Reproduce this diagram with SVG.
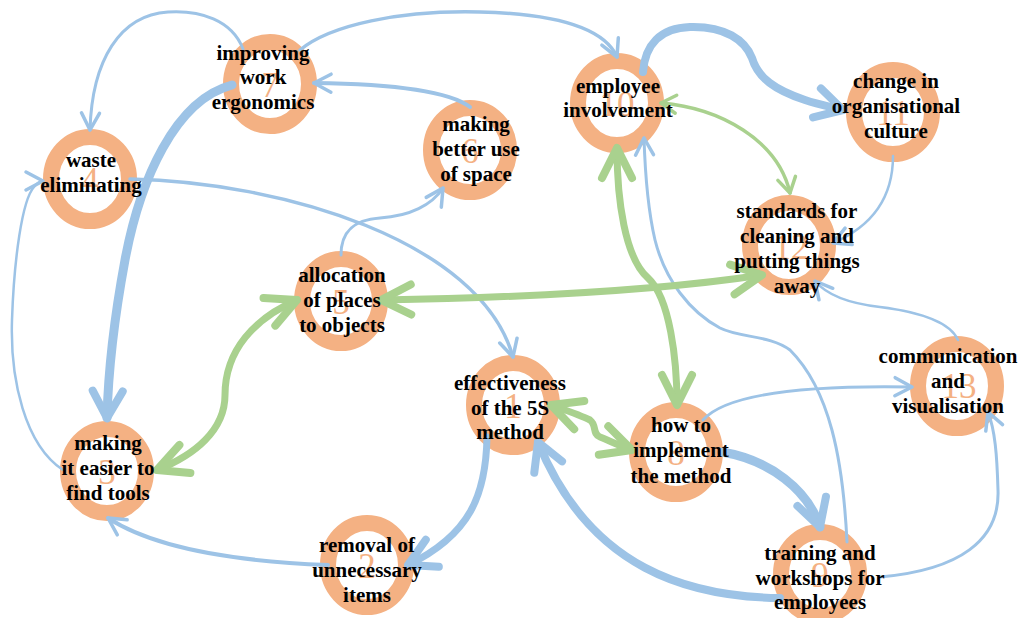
<svg xmlns="http://www.w3.org/2000/svg" width="1030" height="618" viewBox="0 0 1030 618">
<style>
.ring{fill:none;stroke:#F4B183;stroke-width:16}
.num{font-family:"Liberation Serif","Times New Roman",serif;font-size:35px;fill:#F4B183;text-anchor:middle}
.lbl{font-family:"Liberation Serif","Times New Roman",serif;font-size:21px;font-weight:bold;fill:#000;text-anchor:middle}
.b{fill:none;stroke:#9DC3E6;stroke-linecap:round}
.g{fill:none;stroke:#A9D18E;stroke-linecap:round}
.bs{marker-end:url(#mbs)}
.bl{marker-end:url(#mbl)}
.gs{marker-start:url(#mgs);marker-end:url(#mgs)}
.gl{marker-start:url(#mgl);marker-end:url(#mgl)}
</style>
<defs>
<marker id="mbs" markerUnits="userSpaceOnUse" viewBox="-30 -20 40 40" markerWidth="40" markerHeight="40" refX="0" refY="0" orient="auto-start-reverse" overflow="visible"><path d="M-17,-9 L0,0 L-17,9" fill="none" stroke="#9DC3E6" stroke-width="3.5" stroke-linecap="round" stroke-linejoin="round"/></marker>
<marker id="mbl" markerUnits="userSpaceOnUse" viewBox="-40 -25 50 50" markerWidth="50" markerHeight="50" refX="0" refY="0" orient="auto-start-reverse" overflow="visible"><path d="M-27,-15 L0,0 L-27,15" fill="none" stroke="#9DC3E6" stroke-width="8" stroke-linecap="round" stroke-linejoin="round"/></marker>
<marker id="mgs" markerUnits="userSpaceOnUse" viewBox="-30 -20 40 40" markerWidth="40" markerHeight="40" refX="0" refY="0" orient="auto-start-reverse" overflow="visible"><path d="M-15,-9 L0,0 L-15,9" fill="none" stroke="#A9D18E" stroke-width="3.5" stroke-linecap="round" stroke-linejoin="round"/></marker>
<marker id="mgl" markerUnits="userSpaceOnUse" viewBox="-40 -25 50 50" markerWidth="50" markerHeight="50" refX="0" refY="0" orient="auto-start-reverse" overflow="visible"><path d="M-30,-15 L0,0 L-30,15" fill="none" stroke="#A9D18E" stroke-width="8" stroke-linecap="round" stroke-linejoin="round"/></marker>
</defs>
<g id="rings">
<ellipse class="ring" cx="90" cy="179" rx="39" ry="42"/>
<ellipse class="ring" cx="270" cy="84" rx="39" ry="42"/>
<ellipse class="ring" cx="470" cy="150" rx="39" ry="42"/>
<ellipse class="ring" cx="617" cy="103" rx="39" ry="42"/>
<ellipse class="ring" cx="893" cy="112" rx="39" ry="42"/>
<ellipse class="ring" cx="789" cy="245" rx="39" ry="42"/>
<ellipse class="ring" cx="341" cy="301" rx="39" ry="42"/>
<ellipse class="ring" cx="513" cy="405" rx="39" ry="42"/>
<ellipse class="ring" cx="676" cy="452" rx="39" ry="42"/>
<ellipse class="ring" cx="820" cy="574" rx="39" ry="42"/>
<ellipse class="ring" cx="957" cy="386" rx="39" ry="42"/>
<ellipse class="ring" cx="107" cy="471" rx="39" ry="42"/>
<ellipse class="ring" cx="367" cy="565" rx="39" ry="42"/>
</g>
<g id="connectors">
<path class="b bs" stroke-width="3" d="M243,49 C232,20 200,10 168,12 C120,15 92,60 90,130"/>
<path class="b bs" stroke-width="3.5" d="M300,50 C330,25 400,10 480,12 C560,14 605,30 617,57"/>
<path class="b bs" stroke-width="4" d="M470,107 C450,92 400,84 314,83"/>
<path class="b bs" stroke-width="3" d="M341,255 C341,235 350,220 380,218 C410,216 432,205 443,188"/>
<path class="b bs" stroke-width="3.5" d="M130,179 C280,182 480,240 513,357"/>
<path class="b bs" stroke-width="2.5" d="M63,470 C25,445 10,380 12,320 C14,260 22,200 34,187 C37,183 40,181 43,181"/>
<path class="b bl" stroke-width="9" d="M232,85 C175,100 140,180 125,260 C112,330 108,380 107,418"/>
<path class="b bl" stroke-width="8" d="M643,72 C645,45 660,28 690,27 C725,26 745,40 752,58 C758,78 775,90 805,100 C820,105 832,107 843,110"/>
<path class="b bs" stroke-width="2.5" d="M893,156 C893,195 875,225 833,243"/>
<path class="b bs" stroke-width="2.5" d="M958,340 C950,322 920,312 880,307 C845,303 825,293 815,281"/>
<path class="b bs" stroke-width="3" d="M703,420 C725,395 800,385 912,387"/>
<path class="b bs" stroke-width="3" d="M880,577 C960,570 1000,540 998,490 C997,455 995,430 988,412"/>
<path class="b bs" stroke-width="3" d="M847,542 C843,460 830,390 790,350 C770,335 740,338 720,328 C690,312 665,280 655,240 C648,210 645,170 644,138"/>
<path class="b bl" stroke-width="9" d="M722,452 C770,460 808,490 820,527"/>
<path class="b bl" stroke-width="8" d="M780,598 C690,597 590,570 538,442"/>
<path class="b bl" stroke-width="7" d="M487,437 C486,495 470,535 408,565"/>
<path class="b bs" stroke-width="4" d="M328,565 C250,562 160,552 108,518"/>
<path class="g gl" stroke-width="7" d="M297,300 C255,318 225,350 225,395 C225,430 195,455 157,470"/>
<path class="g gl" stroke-width="7" d="M381,300 C500,298 650,292 762,275"/>
<path class="g gl" stroke-width="7" d="M617,148 C617,200 625,258 648,278 C670,298 677,360 677,405"/>
<path class="g gs" stroke-width="3.5" d="M661,103 C720,108 778,140 790,193"/>
<path class="g gl" stroke-width="7" d="M551,405 C565,410 580,415 590,420 C597,425 592,434 600,437 C610,441 620,446 632,450"/>
</g>
<g id="n4"><text class="num" x="90" y="192">4</text><text class="lbl" x="91"><tspan x="91" y="167">waste</tspan><tspan x="91" y="192">eliminating</tspan></text></g>
<g id="n7"><text class="num" x="270" y="97">7</text><text class="lbl"><tspan x="263" y="60">improving</tspan><tspan x="263" y="84">work</tspan><tspan x="263" y="109">ergonomics</tspan></text></g>
<g id="n6"><text class="num" x="470" y="163">6</text><text class="lbl"><tspan x="476" y="131">making</tspan><tspan x="476" y="156">better use</tspan><tspan x="476" y="181">of space</tspan></text></g>
<g id="n10"><text class="num" x="617" y="116">10</text><text class="lbl"><tspan x="618" y="93">employee</tspan><tspan x="618" y="117">involvement</tspan></text></g>
<g id="n11"><text class="num" x="893" y="125">11</text><text class="lbl"><tspan x="896" y="88">change in</tspan><tspan x="896" y="113">organisational</tspan><tspan x="896" y="138">culture</tspan></text></g>
<g id="n12"><text class="num" x="791" y="259">12</text><text class="lbl"><tspan x="797" y="218">standards for</tspan><tspan x="797" y="243">cleaning and</tspan><tspan x="797" y="268">putting things</tspan><tspan x="797" y="293">away</tspan></text></g>
<g id="n5"><text class="num" x="341" y="314">5</text><text class="lbl"><tspan x="342" y="282">allocation</tspan><tspan x="342" y="307">of places</tspan><tspan x="342" y="332">to objects</tspan></text></g>
<g id="n1"><text class="num" x="513" y="418">1</text><text class="lbl"><tspan x="510" y="390">effectiveness</tspan><tspan x="510" y="415">of the 5S</tspan><tspan x="510" y="439">method</tspan></text></g>
<g id="n8"><text class="num" x="676" y="465">8</text><text class="lbl"><tspan x="681" y="432">how to</tspan><tspan x="681" y="457">implement</tspan><tspan x="681" y="483">the method</tspan></text></g>
<g id="n9"><text class="num" x="820" y="587">9</text><text class="lbl"><tspan x="820" y="560">training and</tspan><tspan x="820" y="585">workshops for</tspan><tspan x="820" y="609">employees</tspan></text></g>
<g id="n13"><text class="num" x="959" y="398">13</text><text class="lbl"><tspan x="948" y="363">communication</tspan><tspan x="948" y="388">and</tspan><tspan x="948" y="413">visualisation</tspan></text></g>
<g id="n3"><text class="num" x="107" y="484">3</text><text class="lbl"><tspan x="108" y="450">making</tspan><tspan x="108" y="475">it easier to</tspan><tspan x="108" y="500">find tools</tspan></text></g>
<g id="n2"><text class="num" x="367" y="578">2</text><text class="lbl"><tspan x="367" y="552">removal of</tspan><tspan x="367" y="577">unnecessary</tspan><tspan x="367" y="602">items</tspan></text></g>
</svg>
